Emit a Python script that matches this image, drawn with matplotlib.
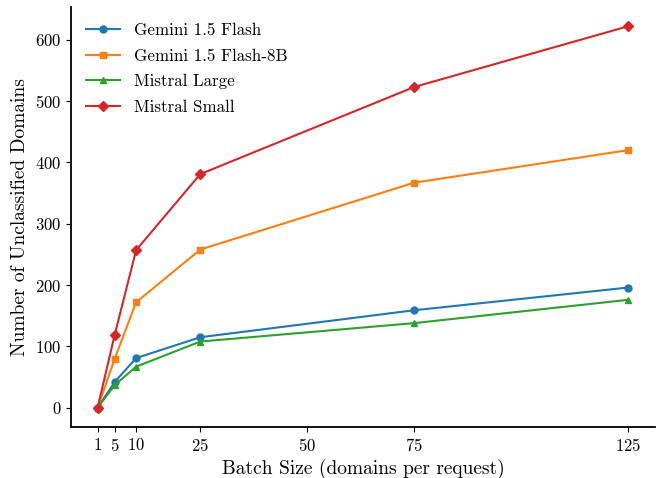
import matplotlib
matplotlib.use("Agg")
import matplotlib.pyplot as plt

plt.rcParams["font.family"] = "serif"
plt.rcParams["font.serif"] = ["cmr10", "DejaVu Serif"]
plt.rcParams["mathtext.fontset"] = "cm"
plt.rcParams["axes.formatter.use_mathtext"] = True

batch_sizes = [1, 5, 10, 25, 75, 125]
gemini_flash = [0, 42, 81, 115, 159, 196]
gemini_flash_8b = [0, 80, 172, 258, 367, 420]
mistral_large = [0, 37, 67, 108, 138, 176]
mistral_small = [0, 119, 257, 381, 523, 622]
xticks = [1, 5, 10, 25, 50, 75, 125]

fig, ax = plt.subplots(figsize=(6.64, 4.78), dpi=100)
ax.plot(batch_sizes, gemini_flash, marker="o", ms=5, color="#1f77b4", label="Gemini 1.5 Flash")
ax.plot(batch_sizes, gemini_flash_8b, marker="s", ms=5, color="#ff7f0e", label="Gemini 1.5 Flash-8B")
ax.plot(batch_sizes, mistral_large, marker="^", ms=5, color="#2ca02c", label="Mistral Large")
ax.plot(batch_sizes, mistral_small, marker="D", ms=5, color="#d62728", label="Mistral Small")

ax.set_xticks(xticks)
ax.set_xlabel("Batch Size (domains per request)", fontsize=14)
ax.set_ylabel("Number of Unclassified Domains", fontsize=14)
ax.tick_params(labelsize=12)
ax.spines["top"].set_visible(False)
ax.spines["right"].set_visible(False)
ax.spines["left"].set_linewidth(1.3)
ax.spines["bottom"].set_linewidth(1.3)
ax.legend(frameon=False, fontsize=12.2, loc="upper left", labelspacing=0.62)

fig.subplots_adjust(left=0.107, right=0.986, bottom=0.107, top=0.985)
fig.savefig("out.png", dpi=100)
